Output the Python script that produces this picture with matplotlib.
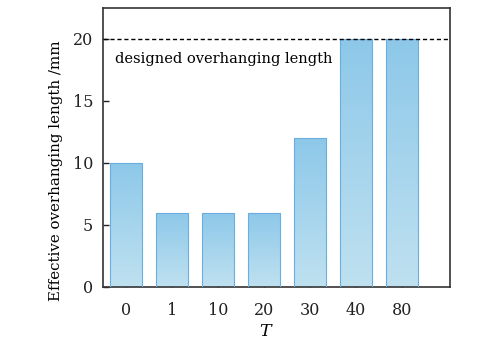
import matplotlib
matplotlib.use('Agg')
import matplotlib.pyplot as plt
import numpy as np

categories = ['0', '1', '10', '20', '30', '40', '80']
lengths = [10, 6, 6, 6, 12, 20, 20]
designed_length = 20

plt.rcParams['font.family'] = 'DejaVu Serif'
plt.rcParams['mathtext.fontset'] = 'dejavuserif'

fig = plt.figure(figsize=(5.0, 3.44), dpi=100)
ax = fig.add_axes([0.206, 0.166, 0.694, 0.811])

x_pos = np.arange(len(categories))
bars = ax.bar(x_pos, lengths, width=0.7, color='none', edgecolor='#6aaee0',
              linewidth=0.8, zorder=3)

# vertical gradient inside each bar: darker at the top, lighter at the bottom
grad = np.linspace(0, 1, 256).reshape(-1, 1)
cmap = matplotlib.colors.LinearSegmentedColormap.from_list(
    'bar', ['#bfe1f0', '#8dc8e9'])
for b in bars:
    x0, w, h = b.get_x(), b.get_width(), b.get_height()
    im = ax.imshow(grad, extent=[x0, x0 + w, 0, h], origin='lower',
                   cmap=cmap, aspect='auto', zorder=2)
    im.set_clip_path(b)

ax.axhline(designed_length, color='black', linestyle=(0, (3, 2)),
           linewidth=1.0, zorder=4)
ax.text(-0.25, 18.4, 'designed overhanging length', fontsize=10.5,
        va='center', ha='left')

ax.set_xlim(-0.5, 7.04)
ax.set_ylim(0, 22.5)
ax.set_xticks(x_pos)
ax.set_xticklabels(categories)
ax.set_yticks([0, 5, 10, 15, 20])
ax.tick_params(direction='in', length=4, width=1, labelsize=11.5,
               colors='#222222')
ax.tick_params(axis='x', pad=11)
ax.tick_params(axis='y', pad=7)
ax.set_xlabel('$T$', fontsize=12.5)
ax.xaxis.set_label_coords(0.47, -0.13)
ax.set_ylabel('Effective overhanging length /mm', fontsize=10.8)
ax.yaxis.set_label_coords(-0.116, 0.416)
for s in ax.spines.values():
    s.set_color('#333333')
    s.set_linewidth(1.2)

fig.savefig('out.png', dpi=100)
